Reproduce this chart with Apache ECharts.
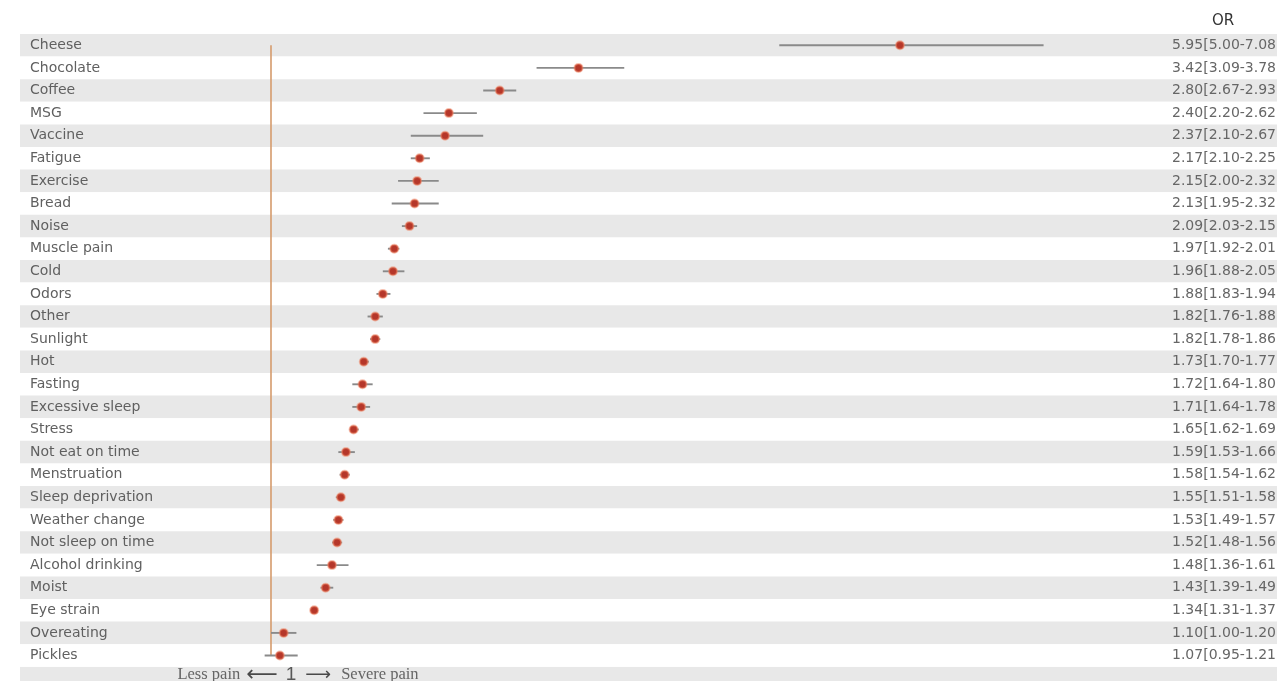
<!DOCTYPE html>
<html>
<head>
<meta charset="utf-8">
<script src="https://cdn.jsdelivr.net/npm/echarts@6/dist/echarts.min.js"></script>
<style>
html,body{margin:0;padding:0;background:#fff;}
#chart{width:1277px;height:681px;}
</style>
</head>
<body>
<div id="chart"></div>
<script>
const categories = ['Cheese','Chocolate','Coffee','MSG','Vaccine','Fatigue','Exercise','Bread','Noise','Muscle pain','Cold','Odors','Other','Sunlight','Hot','Fasting','Excessive sleep','Stress','Not eat on time','Menstruation','Sleep deprivation','Weather change','Not sleep on time','Alcohol drinking','Moist','Eye strain','Overeating','Pickles'];
const orValues = [5.95,3.42,2.80,2.40,2.37,2.17,2.15,2.13,2.09,1.97,1.96,1.88,1.82,1.82,1.73,1.72,1.71,1.65,1.59,1.58,1.55,1.53,1.52,1.48,1.43,1.34,1.10,1.07];
const ciLow = [5.00,3.09,2.67,2.20,2.10,2.10,2.00,1.95,2.03,1.92,1.88,1.83,1.76,1.78,1.70,1.64,1.64,1.62,1.53,1.54,1.51,1.49,1.48,1.36,1.39,1.31,1.00,0.95];
const ciHigh = [7.08,3.78,2.93,2.62,2.67,2.25,2.32,2.32,2.15,2.01,2.05,1.94,1.88,1.86,1.77,1.80,1.78,1.69,1.66,1.62,1.58,1.57,1.56,1.61,1.49,1.37,1.20,1.21];
const refValue = 1;

const n = categories.length;
const orLabels = orValues.map((v,i)=> v.toFixed(2)+'['+ciLow[i].toFixed(2)+'-'+ciHigh[i].toFixed(2)+']');

const rowH = 22.6;
const chart = echarts.init(document.getElementById('chart'));
chart.setOption({
  backgroundColor:'#fff',
  animation:false,
  title:{text:'OR', left:1207, top:9, textStyle:{fontFamily:'DejaVu Sans', fontSize:15, fontWeight:'normal', color:'#333'}},
  graphic:[{
    type:'rect', left:20, top:34 + n*rowH, shape:{width:1257, height:30}, style:{fill:'#e8e8e8'}, z:-10
  }],
  grid:{left:20, top:34, width:1257, height:n*rowH, containLabel:false},
  xAxis:{type:'value', min:-0.9753, max:8.917, show:false},
  yAxis:{
    type:'category', data:categories, inverse:true,
    axisLine:{show:false}, axisTick:{show:false},
    axisLabel:{inside:true, margin:10, align:'left', fontFamily:'DejaVu Sans', fontSize:14, color:'#606060'},
    splitLine:{show:false},
    splitArea:{show:true, areaStyle:{color:['#e8e8e8','#ffffff']}}
  },
  series:[
    {
      type:'line', data:[[refValue,0],[refValue,n-1]],
      symbol:'none', lineStyle:{color:'#d59b6c', width:1.6}, z:1
    },
    {
      type:'custom',
      data:categories.map((c,i)=>[ciLow[i], ciHigh[i], i]),
      renderItem:function(params, api){
        const a = api.coord([api.value(0), api.value(2)]);
        const b = api.coord([api.value(1), api.value(2)]);
        return {type:'line', shape:{x1:a[0], y1:a[1], x2:b[0], y2:b[1]}, style:{stroke:'#8a8a8a', lineWidth:1.9}};
      },
      z:2
    },
    {
      type:'scatter',
      data:orValues.map((v,i)=>[v,i]),
      symbolSize:8,
      itemStyle:{color:'#b5372a', borderColor:'rgba(240,130,95,0.5)', borderWidth:2, opacity:1},
      z:3
    },
    {
      type:'custom', silent:true,
      data:categories.map((c,i)=>[refValue, i]),
      renderItem:function(params, api){
        const p = api.coord([api.value(0), api.value(1)]);
        const cs = params.coordSys;
        return {type:'text', x: cs.x + cs.width - 105, y: p[1],
          style:{text: orLabels[params.dataIndex], fill:'#666', font:'14px "DejaVu Sans"', textAlign:'left', textVerticalAlign:'middle'}};
      },
      z:4
    },
    {
      type:'scatter',
      data:[[refValue, n-1]],
      symbolSize:0, silent:true,
      label:{show:true, position:'inside', offset:[27, rowH-3],
        formatter:'{a|Less pain}{l|\u27F5}{c|1}{r|\u27F6}{a|Severe pain}',
        rich:{
          a:{fontFamily:'Liberation Serif', fontSize:16.5, color:'#444'},
          l:{fontFamily:'DejaVu Sans', fontSize:22, color:'#222', padding:[0,8,0,6]},
          r:{fontFamily:'DejaVu Sans', fontSize:18, color:'#222', padding:[0,10,0,9]},
          c:{fontFamily:'Liberation Sans', fontSize:19, color:'#333'}
        }
      },
      z:4
    }
  ]
});
</script>
</body>
</html>
